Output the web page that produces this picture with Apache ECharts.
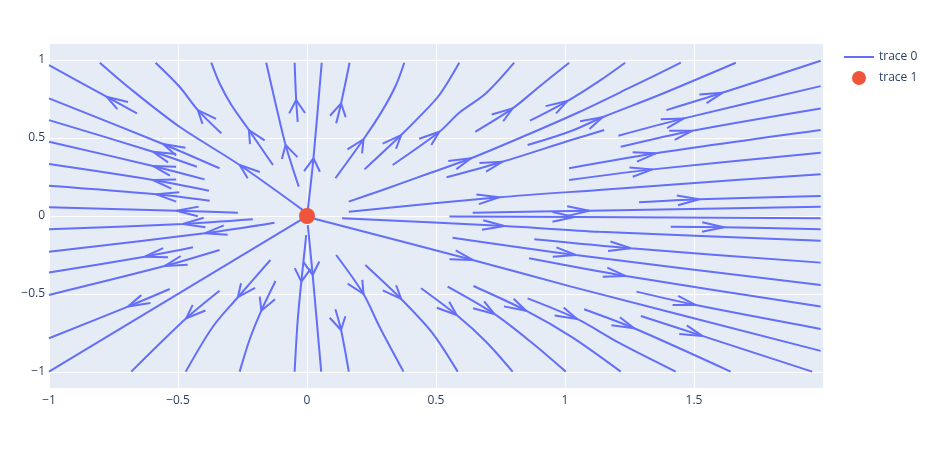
<!DOCTYPE html>
<html><head><meta charset="utf-8">
<script src="https://cdn.jsdelivr.net/npm/echarts@6/dist/echarts.min.js"></script>
<style>html,body{margin:0;padding:0;background:#fff}#c{width:934px;height:452px}</style>
</head><body><div id="c"></div>
<script>
// ---- data (data units) ----
const xTicks = [-1, -0.5, 0, 0.5, 1, 1.5];
const yTicks = [-1, -0.5, 0, 0.5, 1];
const sourcePoint = [[0, 0]];

// each streamline is ordered in the direction of flow (outward from the source)
const streamlines = [
  [[-0.659,0.658],[-0.777,0.765],[-1.0,0.968]],
  [[-0.016,0.038],[-0.261,0.327],[-0.494,0.572],[-0.687,0.819],[-0.803,0.983]],
  [[-0.339,0.306],[-0.558,0.462],[-1.0,0.754]],
  [[-0.427,0.316],[-0.597,0.412],[-1.0,0.615]],
  [[-0.397,0.235],[-0.597,0.321],[-1.0,0.476]],
  [[-0.380,0.162],[-0.597,0.231],[-1.0,0.333]],
  [[-0.377,0.098],[-0.584,0.139],[-1.0,0.194]],
  [[-0.268,0.021],[-0.506,0.034],[-1.0,0.056]],
  [[-0.332,0.530],[-0.423,0.679],[-0.494,0.829],[-0.587,0.983]],
  [[-0.132,0.327],[-0.225,0.551],[-0.293,0.712],[-0.339,0.851],[-0.371,0.983]],
  [[-0.032,0.188],[-0.083,0.455],[-0.119,0.701],[-0.158,0.983]],
  [[-0.036,0.604],[-0.042,0.744],[-0.048,0.983]],
  [[0.003,0.038],[0.025,0.370],[0.057,0.983]],
  [[0.113,0.594],[0.132,0.722],[0.165,0.983]],
  [[0.110,0.242],[0.219,0.492],[0.293,0.679],[0.345,0.840],[0.377,0.983]],
  [[0.223,0.299],[0.365,0.519],[0.436,0.637],[0.513,0.776],[0.590,0.983]],
  [[0.332,0.327],[0.513,0.540],[0.590,0.662],[0.694,0.787],[0.803,0.983]],
  [[0.652,0.540],[0.797,0.690],[0.900,0.829],[1.016,0.983]],
  [[0.864,0.611],[1.009,0.737],[1.132,0.865],[1.233,0.983]],
  [[0.162,0.092],[0.293,0.167],[0.474,0.274],[0.636,0.370],[0.861,0.526],[1.055,0.667],[1.249,0.821],[1.449,0.983]],
  [[0.541,0.248],[0.758,0.348],[1.024,0.487],[1.152,0.551]],
  [[0.855,0.455],[1.024,0.545],[1.145,0.633],[1.365,0.776],[1.662,0.983]],
  [[1.393,0.679],[1.610,0.790],[1.991,0.996]],
  [[1.207,0.515],[1.461,0.626],[1.991,0.833]],
  [[1.216,0.444],[1.494,0.547],[1.991,0.690]],
  [[1.016,0.306],[1.352,0.402],[1.991,0.551]],
  [[1.016,0.231],[1.339,0.299],[1.991,0.406]],
  [[0.162,0.028],[0.745,0.120],[1.132,0.167],[1.662,0.231],[1.991,0.267]],
  [[1.287,0.088],[1.520,0.107],[1.991,0.128]],
  [[0.642,0.021],[1.094,0.034],[1.991,0.060]],
  [[0.552,-0.004],[1.036,-0.006],[1.991,-0.015]],
  [[1.410,-0.069],[1.616,-0.072],[1.991,-0.085]],
  [[0.136,-0.015],[0.765,-0.064],[1.132,-0.101],[1.991,-0.158]],
  [[0.881,-0.149],[1.255,-0.207],[1.991,-0.299]],
  [[0.564,-0.139],[1.042,-0.250],[1.991,-0.442]],
  [[0.861,-0.271],[1.236,-0.385],[1.991,-0.581]],
  [[0.010,-0.010],[0.642,-0.282],[1.024,-0.453],[1.991,-0.865]],
  [[1.277,-0.485],[1.507,-0.571],[1.991,-0.724]],
  [[1.294,-0.641],[1.532,-0.769],[1.958,-0.998]],
  [[1.074,-0.598],[1.268,-0.720],[1.642,-0.998]],
  [[0.855,-0.528],[1.047,-0.660],[1.210,-0.814],[1.429,-0.998]],
  [[0.645,-0.449],[0.849,-0.607],[1.024,-0.774],[1.216,-0.998]],
  [[0.545,-0.453],[0.726,-0.628],[0.874,-0.816],[1.003,-0.998]],
  [[0.442,-0.463],[0.580,-0.635],[0.694,-0.806],[0.797,-0.998]],
  [[0.226,-0.314],[0.365,-0.532],[0.487,-0.752],[0.584,-0.998]],
  [[0.113,-0.250],[0.219,-0.500],[0.281,-0.710],[0.374,-0.998]],
  [[0.110,-0.598],[0.132,-0.731],[0.162,-0.998]],
  [[0.003,-0.058],[0.022,-0.378],[0.055,-0.998]],
  [[-0.003,-0.122],[-0.022,-0.421],[-0.036,-0.667],[-0.048,-0.998]],
  [[-0.122,-0.417],[-0.177,-0.607],[-0.223,-0.795],[-0.261,-0.998]],
  [[-0.142,-0.282],[-0.268,-0.521],[-0.365,-0.710],[-0.470,-0.998]],
  [[-0.339,-0.479],[-0.468,-0.656],[-0.681,-0.998]],
  [[-0.017,-0.019],[-1.0,-0.998]],
  [[-0.532,-0.468],[-0.694,-0.581],[-1.0,-0.784]],
  [[-0.339,-0.218],[-0.552,-0.321],[-1.0,-0.506]],
  [[-0.442,-0.201],[-0.629,-0.261],[-1.0,-0.363]],
  [[-0.126,-0.043],[-0.397,-0.111],[-1.0,-0.229]],
  [[-0.210,-0.021],[-0.481,-0.051],[-1.0,-0.085]]
];

// arrow head tip on each streamline (null = no visible arrow)
const arrowTips = [
  [-0.777,0.765],[-0.261,0.327],[-0.558,0.462],[-0.597,0.412],[-0.597,0.321],[-0.597,0.231],
  [-0.584,0.139],[-0.506,0.034],[-0.423,0.679],[-0.225,0.551],[-0.083,0.455],[-0.042,0.744],
  [0.025,0.370],[0.132,0.722],[0.219,0.492],[0.365,0.519],[0.513,0.540],[0.797,0.690],
  [1.009,0.737],[0.636,0.370],[0.758,0.348],[1.145,0.633],[1.610,0.790],[1.461,0.626],
  [1.494,0.547],[1.352,0.402],[1.339,0.299],[0.745,0.120],[1.520,0.107],[1.094,0.034],
  [1.036,-0.006],[1.616,-0.072],[0.765,-0.064],[1.255,-0.207],[1.042,-0.250],[1.236,-0.385],
  [0.642,-0.282],[1.507,-0.571],[1.532,-0.769],[1.268,-0.720],[1.047,-0.660],[0.849,-0.607],
  [0.726,-0.628],[0.580,-0.635],[0.365,-0.532],[0.219,-0.500],[0.132,-0.731],[0.022,-0.378],
  [-0.022,-0.421],[-0.177,-0.607],[-0.268,-0.521],[-0.468,-0.656],null,[-0.694,-0.581],
  [-0.552,-0.321],[-0.629,-0.261],[-0.397,-0.111],[-0.481,-0.051]
];

// ---- drawing ----
const LINE_COLOR = '#636efa';
const FONT = '"Open Sans", verdana, arial, sans-serif';
const ARROW_LEN = 0.09, ARROW_ANG = Math.PI / 9;

function arrowHead(line, tip) {
  let best = 0, bd = Infinity;
  for (let i = 0; i < line.length - 1; i++) {
    const [x1, y1] = line[i], [x2, y2] = line[i + 1];
    const dx = x2 - x1, dy = y2 - y1, L = dx * dx + dy * dy;
    let t = ((tip[0] - x1) * dx + (tip[1] - y1) * dy) / L;
    t = Math.max(0, Math.min(1, t));
    const ex = x1 + t * dx - tip[0], ey = y1 + t * dy - tip[1];
    const d = ex * ex + ey * ey;
    if (d < bd) { bd = d; best = i; }
  }
  const [x1, y1] = line[best], [x2, y2] = line[best + 1];
  const a = Math.atan2(y2 - y1, x2 - x1);
  return [
    [tip[0] - ARROW_LEN * Math.cos(a + ARROW_ANG), tip[1] - ARROW_LEN * Math.sin(a + ARROW_ANG)],
    tip,
    [tip[0] - ARROW_LEN * Math.cos(a - ARROW_ANG), tip[1] - ARROW_LEN * Math.sin(a - ARROW_ANG)]
  ];
}

const series = [];
streamlines.forEach((pts, i) => {
  series.push({
    name: 'trace 0', type: 'line', data: pts, symbol: 'none', smooth: 0.3,
    lineStyle: { color: LINE_COLOR, width: 2 }, itemStyle: { color: LINE_COLOR },
    silent: true, animation: false, z: 2
  });
  if (arrowTips[i]) {
    series.push({
      name: 'trace 0', type: 'line', data: arrowHead(pts, arrowTips[i]), symbol: 'none',
      lineStyle: { color: LINE_COLOR, width: 2 }, itemStyle: { color: LINE_COLOR },
      silent: true, animation: false, z: 2
    });
  }
});
series.push({
  name: 'trace 1', type: 'scatter', data: sourcePoint, symbolSize: 16,
  itemStyle: { color: '#ef553b', opacity: 1 }, silent: true, animation: false, z: 5
});

const fmt = v => (v < 0 ? '\u2212' + Math.abs(v) : String(v));
const labelStyle = { color: '#2a3f5f', fontSize: 12, fontFamily: FONT };

const chart = echarts.init(document.getElementById('c'));
chart.setOption({
  animation: false,
  backgroundColor: '#ffffff',
  grid: { left: 49, right: 111, top: 44, bottom: 64, show: true, backgroundColor: '#E5ECF6', borderWidth: 0 },
  xAxis: {
    type: 'value', min: -1, max: 2,
    axisLine: { show: false },
    axisTick: { show: false, customValues: xTicks },
    axisLabel: Object.assign({ customValues: xTicks, formatter: fmt, margin: 7 }, labelStyle),
    splitLine: { show: true, lineStyle: { color: '#ffffff', width: 1 } }
  },
  yAxis: {
    type: 'value', min: -1.103, max: 1.103,
    axisLine: { show: false },
    axisTick: { show: false, customValues: yTicks },
    axisLabel: Object.assign({ customValues: yTicks, formatter: fmt, margin: 4, padding: [4, 0, 0, 0] }, labelStyle),
    splitLine: { show: true, lineStyle: { color: '#ffffff', width: 1 } }
  },
  legend: [
    { data: ['trace 0'], left: 844, top: 51, padding: 0, icon: 'rect', itemWidth: 30, itemHeight: 2,
      selectedMode: false, textStyle: labelStyle },
    { data: [{ name: 'trace 1', itemStyle: { opacity: 1 } }], left: 852, top: 71, padding: 0, icon: 'circle', itemWidth: 30, itemHeight: 14,
      selectedMode: false, textStyle: labelStyle }
  ],
  series: series
});
</script>
</body></html>
